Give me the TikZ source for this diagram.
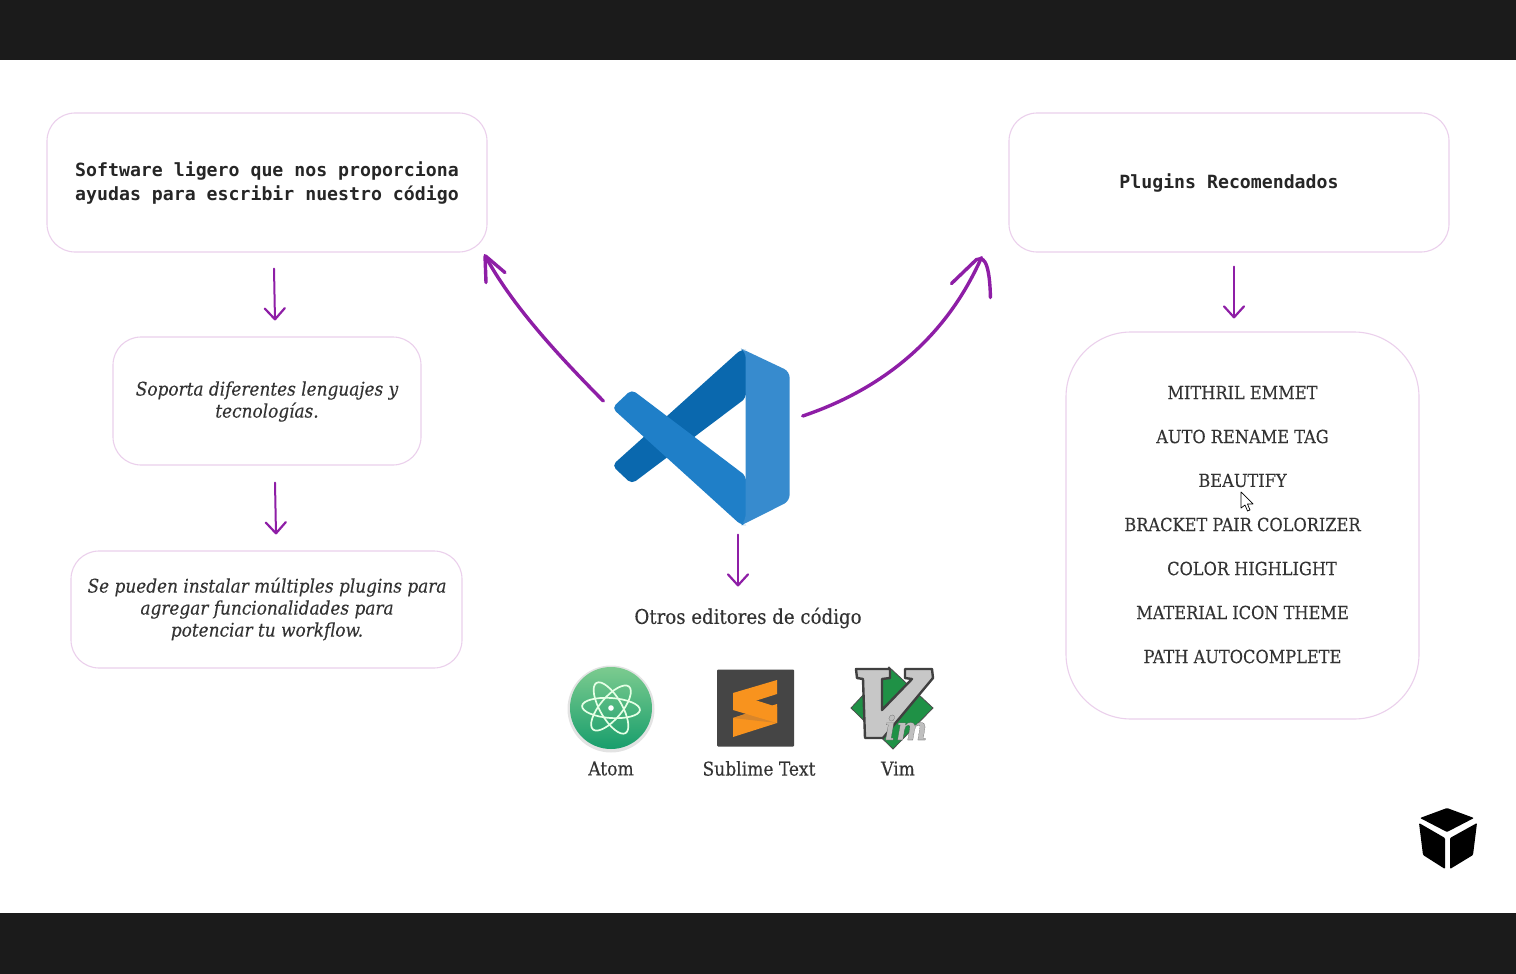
\documentclass[tikz,border=0pt]{standalone}
\usepackage{fontspec}
\setmainfont{DejaVu Serif Condensed}[FakeBold=0.2]
\setmonofont{DejaVu Sans Mono}
\usetikzlibrary{arrows.meta}
\definecolor{bar}{HTML}{1B1B1B}
\definecolor{edge}{HTML}{EBD0EC}
\definecolor{ink}{HTML}{333333}
\definecolor{violet1}{HTML}{8E1EA6}
\definecolor{vsdark}{HTML}{0A68AE}
\definecolor{vsmid}{HTML}{1F7FC8}
\definecolor{vslight}{HTML}{378BCE}
\definecolor{atomtop}{HTML}{7CCB8F}
\definecolor{atombot}{HTML}{189E6C}
\definecolor{subl}{HTML}{F8931E}
\definecolor{subldark}{HTML}{D9862A}
\definecolor{vimgreen}{HTML}{1F9146}
\tikzset{
  x=1pt,y=-1pt,
  box/.style={draw=edge,line width=1.1pt,fill=white,rounded corners=28pt,inner sep=0pt},
  label/.style={text=ink,inner sep=0pt,align=center,font=\fontsize{19}{22}\selectfont},
  caps/.style={label,font=\fontsize{18}{22}\selectfont},
  slant/.style={label,font=\fontsize{18.8}{22}\selectfont\itshape},
  code/.style={text=black!85,inner sep=0pt,align=left,font=\fontsize{18.2}{24}\selectfont\ttfamily\bfseries},
  thin arrow/.style={draw=violet1,line width=2pt,line cap=round,line join=round,
    -{Straight Barb[length=11pt,width=20pt,line width=2.2pt,round]}},
  thick line/.style={draw=violet1,line width=3.4pt,line cap=round,line join=round},
}
\begin{document}
\begin{tikzpicture}
\useasboundingbox (0,0) rectangle (1516,974);
\fill[white] (0,0) rectangle (1516,974);
\fill[bar] (0,0) rectangle (1516,60);
\fill[bar] (0,913) rectangle (1516,974);

% boxes
\node[box,minimum width=440pt,minimum height=139pt] (what) at (267,182.5) {};
\node[code] (whatt) at (267,183) {Software ligero que nos proporciona\\ayudas para escribir nuestro código};
\node[box,minimum width=308pt,minimum height=128pt] (langs) at (267,401) {};
\node[slant] (langst) at (267,401.5) {Soporta diferentes lenguajes y\\tecnologías.};
\node[box,minimum width=391pt,minimum height=117pt] (plugs) at (266.5,609.5) {};
\node[slant] (plugst) at (267,609) {Se pueden instalar múltiples plugins para\\agregar funcionalidades para\\potenciar tu workflow.};
\node[box,minimum width=440pt,minimum height=139pt] (rec) at (1229,182.5) {};
\node[code] (rect) at (1229,183) {Plugins Recomendados};
\node[box,rounded corners=65pt,minimum width=353pt,minimum height=387pt] (list) at (1242.5,525.5) {};
\node[caps] (l1) at (1242.5,392.5) {MITHRIL EMMET};
\node[caps] (l2) at (1242.5,436.5) {AUTO RENAME TAG};
\node[caps] (l3) at (1242.5,480.5) {BEAUTIFY};
\node[caps] (l4) at (1242.5,524.5) {BRACKET PAIR COLORIZER};
\node[caps] (l5) at (1252,568.5) {COLOR HIGHLIGHT};
\node[caps] (l6) at (1242.5,612.5) {MATERIAL ICON THEME};
\node[caps] (l7) at (1242.5,656.5) {PATH AUTOCOMPLETE};

% VS Code logo
\node[inner sep=0pt,minimum width=176pt,minimum height=175pt] (vscode) at (701.5,437) {};
\fill[vsdark,rounded corners=5pt] (746,349.5) -- (741,349.5) -- (612,465.5) -- (631.7,484) -- (746,398) -- cycle;
\fill[vsmid,rounded corners=5pt] (631.7,389.5) -- (746,476) -- (746,525) -- (741,525) -- (612,408) -- cycle;
\fill[vslight,rounded corners=6pt] (741,348.5) -- (789.6,371.5) -- (789.6,501) -- (741,525.5) -- (745.7,520) -- (745.7,352) -- cycle;

\node[label,font=\fontsize{20.2}{22}\selectfont] (others) at (748,618) {Otros editores de código};

% Atom
\node[circle,inner sep=0pt,minimum size=87pt,fill=black!11] (atom) at (611,709) {};
\shade[top color=atomtop,bottom color=atombot] (611,708) circle[radius=41];
\begin{scope}[shift={(611,708)},draw=white!90!green,line width=1.7pt]
  \draw[rotate=-60] (0,0) ellipse[x radius=29,y radius=11];
  \draw[rotate=50] (0,0) ellipse[x radius=28,y radius=11];
  \draw[rotate=-4] (0,0) ellipse[x radius=29,y radius=10];
  \fill[white] (0,0) circle[radius=2.8];
\end{scope}
\node[label] (atomt) at (611,768.5) {Atom};

% Sublime
\node[inner sep=0pt,minimum size=77pt,fill=black!73,rounded corners=1pt] (sublime) at (755.5,708) {};
\fill[subl] (733,693) -- (777,680) -- (777,694) -- (733,708) -- cycle;
\fill[subl] (733,718) -- (777,704) -- (777,723) -- (733,737) -- cycle;
\fill[subldark] (733,718) -- (757,710) -- (777,723) -- cycle;
\fill[subl] (733,693) -- (777,707) -- (777,723) -- (733,710) -- cycle;
\node[label] (sublt) at (759,768.5) {Sublime Text};

% Vim
\node[inner sep=0pt,minimum width=84pt,minimum height=82pt] (vim) at (892,708) {};
\fill[vimgreen,draw=black!70,line width=.8pt] (889,667) -- (933,708) -- (893,749) -- (851,708) -- cycle;
\draw[fill=black!22,draw=black!75,line width=2.4pt,line join=round]
  (856,669) -- (890,669) -- (890,678) -- (882,679) -- (882,710) -- (912,679) -- (905,678) -- (905,669) -- (932,669) -- (933,678) -- (883,738) -- (865,738) -- (863,679) -- (857,678) -- cycle;
\node[inner sep=0pt,anchor=base,text=black!25,font=\fontsize{33}{33}\selectfont\itshape\bfseries] (vimm) at (906,740)
  {\special{pdf:code 2 Tr 0.7 w 0.2 0.2 0.2 RG}im\special{pdf:code 0 Tr}};
\node[label] (vimt) at (898,768.5) {Vim};

% Cube
\node[inner sep=0pt,minimum width=60pt,minimum height=62pt] (cube) at (1448,839) {};
\fill[black,rounded corners=1pt] (1420,818) -- (1447,808) -- (1474,818) -- (1447,832) -- cycle;
\fill[black,rounded corners=1pt] (1419,823) -- (1445,838) -- (1445,869) -- (1423,855) -- cycle;
\fill[black,rounded corners=1pt] (1477,823) -- (1450,838) -- (1450,869) -- (1473,855) -- cycle;

% pointer
\draw[fill=white,draw=black,line width=.7pt,line join=round]
  (1241,492) -- (1241,508) -- (1245,505) -- (1247.5,511) -- (1250,510) -- (1247.5,504) -- (1253,504) -- cycle;

% connectors
\draw[thin arrow] ([shift={(7,16)}]what.south) -- ([shift={(8,-16)}]langs.north);
\draw[thin arrow] ([shift={(8,17)}]langs.south) -- ([shift={(9.5,-16)}]plugs.north);
\draw[thin arrow] ([shift={(5,14)}]rec.south) -- ([shift={(-8.5,-13)}]list.north);
\draw[thin arrow] ([shift={(36.5,10)}]vscode.south) -- ([shift={(-10,-21)}]others.north);

\coordinate (tipL) at ([shift={(218,3)}]what.south);
\coordinate (tipR) at ([shift={(-27,5)}]rec.south west);
\draw[thick line] ([shift={(-10,-36)}]vscode.west) .. controls (555,352) and (512,305) .. (tipL);
\draw[thick line,rounded corners=2pt] ([shift={(1,27)}]tipL) -- (tipL) -- ([shift={(20,17)}]tipL);
\draw[thick line] ([shift={(13,-21)}]vscode.east) .. controls (880,390) and (945,340) .. (tipR);
\draw[thick line] ([shift={(-30,26)}]tipR) -- ([shift={(-5,2)}]tipR) .. controls (tipR) and ([shift={(8,-2)}]tipR) .. ([shift={(9,40)}]tipR);
\end{tikzpicture}
\end{document}
